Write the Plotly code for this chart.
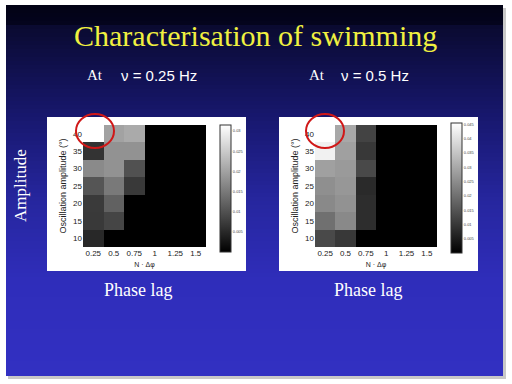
import plotly.graph_objects as go

W, H = 512, 384

# ---- data ----
phase_lag = [0.25, 0.5, 0.75, 1.0, 1.25, 1.5]
phase_labels = ["0.25", "0.5", "0.75", "1", "1.25", "1.5"]
amplitude = [10, 15, 20, 25, 30, 35, 40]

# rows follow amplitude (10 .. 40), columns follow phase lag
speed_025hz = [
    [0.0050, 0.0000, 0.0000, 0, 0, 0],
    [0.0070, 0.0085, 0.0000, 0, 0, 0],
    [0.0072, 0.0120, 0.0000, 0, 0, 0],
    [0.0105, 0.0150, 0.0070, 0, 0, 0],
    [0.0170, 0.0180, 0.0100, 0, 0, 0],
    [0.0063, 0.0180, 0.0180, 0, 0, 0],
    [0.0315, 0.0200, 0.0210, 0, 0, 0],
]
speed_05hz = [
    [0.0130, 0.0100, 0.0000, 0, 0, 0],
    [0.0200, 0.0245, 0.0080, 0, 0, 0],
    [0.0245, 0.0260, 0.0080, 0, 0, 0],
    [0.0255, 0.0270, 0.0075, 0, 0, 0],
    [0.0285, 0.0275, 0.0130, 0, 0, 0],
    [0.0430, 0.0285, 0.0100, 0, 0, 0],
    [0.0455, 0.0300, 0.0120, 0, 0, 0],
]
ticks_025 = [0.005, 0.01, 0.015, 0.02, 0.025, 0.03]
ticks_05 = [0.005, 0.01, 0.015, 0.02, 0.025, 0.03, 0.035, 0.04, 0.045]


def px(x):
    return x / W


def py(y):
    return 1 - y / H


gray = [[0, "black"], [1, "white"]]

fig = go.Figure()
fig.add_trace(go.Heatmap(
    x=phase_lag, y=amplitude, z=speed_025hz, zmin=0, zmax=0.0315,
    colorscale=gray, xaxis="x", yaxis="y",
    colorbar=dict(x=px(220), xanchor="left", y=py(125), yanchor="top",
                  lenmode="pixels", len=127, thickness=11, thicknessmode="pixels",
                  outlinewidth=1, outlinecolor="#333", tickvals=ticks_025,
                  ticktext=[str(t) for t in ticks_025], ticks="",
                  tickfont=dict(size=4, color="#444", family="Liberation Sans"),
                  xpad=0, ypad=0),
))
fig.add_trace(go.Heatmap(
    x=phase_lag, y=amplitude, z=speed_05hz, zmin=0, zmax=0.0455,
    colorscale=gray, xaxis="x2", yaxis="y2",
    colorbar=dict(x=px(451), xanchor="left", y=py(123), yanchor="top",
                  lenmode="pixels", len=130, thickness=11, thicknessmode="pixels",
                  outlinewidth=1, outlinecolor="#333", tickvals=ticks_05,
                  ticktext=[str(t) for t in ticks_05], ticks="",
                  tickfont=dict(size=4, color="#444", family="Liberation Sans"),
                  xpad=0, ypad=0),
))

axfont = dict(size=8, color="#222", family="Liberation Sans")
xcommon = dict(range=[0.125, 1.625], tickvals=phase_lag, ticktext=phase_labels,
               tickfont=axfont, showgrid=False, zeroline=False, ticks="",
               title=dict(text="N · Δφ", font=dict(size=7, color="#222", family="Liberation Sans"), standoff=5),
               fixedrange=True)
ycommon = dict(range=[7.5, 42.5], tickvals=amplitude, tickfont=axfont, showgrid=False,
               zeroline=False, ticks="",
               title=dict(text="Oscillation amplitude (°)", font=dict(size=9, color="#222", family="Liberation Sans"), standoff=4),
               fixedrange=True)

# ---- slide background ----
shapes = []
shapes.append(dict(type="rect", xref="paper", yref="paper", x0=px(8), x1=px(506), y0=py(379), y1=py(8),
                   fillcolor="#c8c8c8", line=dict(width=0), layer="below"))
stops = [(5, (2, 2, 20)), (24, (4, 4, 30)), (26, (10, 10, 48)), (60, (15, 15, 72)), (120, (24, 24, 112)),
         (200, (38, 38, 158)), (280, (47, 45, 186)), (376, (50, 48, 194))]
y = 5
step = 4
while y < 376:
    y2 = min(y + step, 376)
    ym = (y + y2) / 2
    for (a, ca), (b, cb) in zip(stops[:-1], stops[1:]):
        if a <= ym <= b:
            t = (ym - a) / (b - a)
            c = tuple(int(round(ca[i] + (cb[i] - ca[i]) * t)) for i in range(3))
            break
    shapes.append(dict(type="rect", xref="paper", yref="paper", x0=px(6), x1=px(503), y0=py(y2), y1=py(y),
                       fillcolor="rgb(%d,%d,%d)" % c, line=dict(width=0), layer="below"))
    y = y2
# white panels
for x0, x1 in [(47, 246), (279, 478)]:
    shapes.append(dict(type="rect", xref="paper", yref="paper", x0=px(x0), x1=px(x1), y0=py(271), y1=py(117),
                       fillcolor="white", line=dict(width=0), layer="below"))
# red circles
for cx in [95, 325]:
    shapes.append(dict(type="circle", xref="paper", yref="paper", x0=px(cx - 19), x1=px(cx + 19),
                       y0=py(148), y1=py(114), line=dict(color="#d01818", width=2), layer="above"))

serif = "Liberation Serif"
ann = [
    dict(text="Characterisation of swimming", x=px(255), y=py(35), font=dict(family=serif, size=30, color="#f0f040")),
    dict(text="At", x=px(95), y=py(75), font=dict(family=serif, size=15, color="white")),
    dict(text="ν = 0.25 Hz", x=px(159), y=py(75), font=dict(family="Liberation Sans", size=15, color="white")),
    dict(text="At", x=px(317), y=py(75), font=dict(family=serif, size=15, color="white")),
    dict(text="ν = 0.5 Hz", x=px(375), y=py(75), font=dict(family="Liberation Sans", size=15, color="white")),
    dict(text="Amplitude", x=px(20), y=py(186), textangle=-90, font=dict(family=serif, size=17, color="white")),
    dict(text="Phase lag", x=px(138), y=py(290), font=dict(family=serif, size=18, color="white")),
    dict(text="Phase lag", x=px(368), y=py(290), font=dict(family=serif, size=18, color="white")),
]
for a in ann:
    a.update(xref="paper", yref="paper", showarrow=False, xanchor="center", yanchor="middle")

fig.update_layout(
    width=W, height=H, margin=dict(l=0, r=0, t=0, b=0),
    paper_bgcolor="white", plot_bgcolor="black",
    xaxis=dict(domain=[px(83), px(206)], anchor="y", **xcommon),
    yaxis=dict(domain=[py(247), py(125)], anchor="x", **ycommon),
    xaxis2=dict(domain=[px(315), px(437)], anchor="y2", **xcommon),
    yaxis2=dict(domain=[py(247), py(125)], anchor="x2", **ycommon),
    shapes=shapes, annotations=ann, showlegend=False,
)

fig.write_html("out.html", config={"displayModeBar": False},
               post_script="document.body.style.margin='0';document.body.style.overflow='hidden';")
